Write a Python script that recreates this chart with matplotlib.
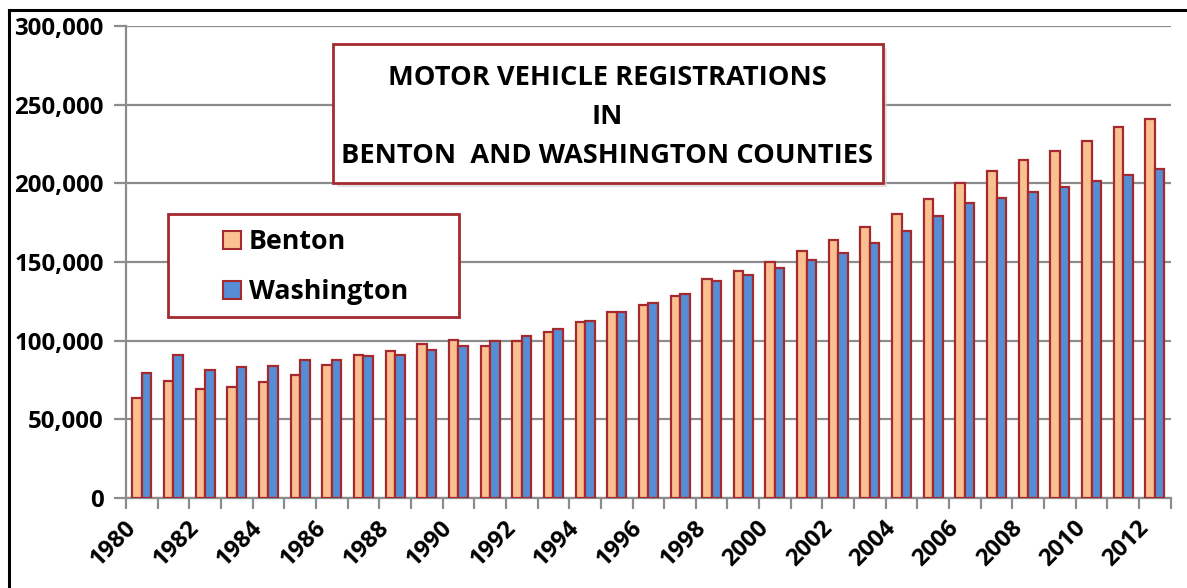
import matplotlib
matplotlib.use("Agg")
import matplotlib.pyplot as plt
from matplotlib.patches import Rectangle
from matplotlib.lines import Line2D
from matplotlib.ticker import FuncFormatter
import numpy as np

years = list(range(1980, 2013))
benton = [63700, 74300, 69300, 70600, 74000, 78100, 84400, 91000, 93200, 98100,
          100500, 96900, 100000, 105400, 112000, 118500, 122500, 128200, 139000, 144300,
          150300, 157300, 164100, 172300, 180600, 190100, 200000, 207900, 214900, 220800,
          227100, 235600, 241100]
washington = [79200, 91000, 81400, 83300, 84000, 87600, 87800, 90500, 91000, 94100,
              96900, 99700, 102700, 107300, 112800, 118500, 123800, 129700, 138200, 141700,
              146300, 151100, 155600, 162100, 169500, 179500, 187400, 190600, 194400, 197600,
              201800, 205400, 208800]

plt.rcParams['font.family'] = ['Open Sans', 'DejaVu Sans']
plt.rcParams['font.weight'] = 'bold'
W, H = 1187, 588
fig = plt.figure(figsize=(W / 100, H / 100), dpi=100)

def fx(px):
    return px / W

def fy(py):
    return 1 - py / H

ax = fig.add_axes([fx(126), fy(498), fx(1170.7) - fx(126), fy(26) - fy(498)])

edge = '#A52A30'
x = np.arange(len(years))
bw = 0.3
ax.bar(x - bw / 2, benton, bw, color='#FAC090', edgecolor=edge, linewidth=1.6, zorder=3)
ax.bar(x + bw / 2, washington, bw, color='#558ED5', edgecolor=edge, linewidth=1.6, zorder=3)

ax.set_xlim(-0.5, len(years) - 0.5)
ax.set_ylim(0, 300000)
ax.set_yticks(range(0, 300001, 50000))
ax.yaxis.set_major_formatter(FuncFormatter(lambda v, p: f"{int(v):,}"))
ax.grid(axis='y', color='#8C8C8C', linewidth=1.6, zorder=0)
ax.set_axisbelow(True)

for s in ['top', 'right']:
    ax.spines[s].set_visible(False)
for s in ['left', 'bottom']:
    ax.spines[s].set_color('#8C8C8C')
    ax.spines[s].set_linewidth(1.6)

ax.tick_params(axis='y', length=9, width=1.6, color='#8C8C8C', pad=7, labelsize=17.3)

# year labels every other year, nudged left so the rotated text ends over its bars
ax.set_xticks(x[::2] - 0.3)
ax.set_xticklabels([str(y) for y in years[::2]], rotation=45, ha='right', va='center',
                   rotation_mode='anchor', fontsize=17, fontweight='bold')
ax.tick_params(axis='x', which='major', length=0, pad=19)
ax.set_xticks(np.arange(-0.5, len(years), 1), minor=True)
ax.tick_params(axis='x', which='minor', length=8, width=1.6, color='#8C8C8C')

# title box
fig.patches.append(Rectangle((fx(337), fy(187)), fx(883) - fx(333), fy(44) - fy(183),
                             transform=fig.transFigure, facecolor='#D0D0D0', edgecolor='none',
                             alpha=0.6, zorder=4))
fig.patches.append(Rectangle((fx(333), fy(183)), fx(883) - fx(333), fy(44) - fy(183),
                             transform=fig.transFigure, facecolor='white', edgecolor=edge,
                             linewidth=2, zorder=5))
title_lines = ["MOTOR VEHICLE REGISTRATIONS", "IN", "BENTON  AND WASHINGTON COUNTIES"]
for line, py in zip(title_lines, [78, 117, 156]):
    fig.text(fx(607), fy(py), line, ha='center', va='center', fontsize=19.6,
             fontweight='bold', zorder=6)

# legend box
fig.patches.append(Rectangle((fx(170), fy(319)), fx(459) - fx(168), fy(214) - fy(317),
                             transform=fig.transFigure, facecolor='#D8D8D8', edgecolor='none',
                             alpha=0.5, zorder=4))
fig.patches.append(Rectangle((fx(168), fy(317)), fx(459) - fx(168), fy(214) - fy(317),
                             transform=fig.transFigure, facecolor='white', edgecolor=edge,
                             linewidth=2, zorder=5))
for label, col, py in [("Benton", '#FAC090', 240), ("Washington", '#558ED5', 290)]:
    fig.patches.append(Rectangle((fx(223), fy(py + 9)), fx(241) - fx(223), fy(py - 9) - fy(py + 9),
                                 transform=fig.transFigure, facecolor=col, edgecolor=edge,
                                 linewidth=1.5, zorder=6))
    fig.text(fx(249), fy(py + 2), label, ha='left', va='center', fontsize=19.3,
             fontweight='bold', zorder=6)

# outer border (top and left)
fig.add_artist(Line2D([fx(9), 1.0], [fy(10), fy(10)], color='black', linewidth=2.2))
fig.add_artist(Line2D([fx(9), fx(9)], [fy(10), 0.0], color='black', linewidth=2.2))

fig.savefig("out.png", dpi=100)
